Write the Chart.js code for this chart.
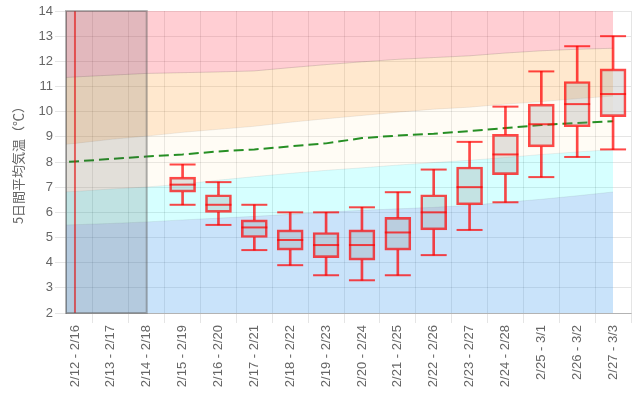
<!DOCTYPE html>
<html><head><meta charset="utf-8">
<script src="https://cdn.jsdelivr.net/npm/chart.js@4"></script>
<style>html,body{margin:0;padding:0;background:#fff}#wrap{width:640px;height:398px;position:relative}</style>
</head><body><div id="wrap"><canvas id="c"></canvas></div>
<script>
// Categories (5-day windows)
const categories = ['2/12 - 2/16','2/13 - 2/17','2/14 - 2/18','2/15 - 2/19','2/16 - 2/20','2/17 - 2/21','2/18 - 2/22','2/19 - 2/23','2/20 - 2/24','2/21 - 2/25','2/22 - 2/26','2/23 - 2/27','2/24 - 2/28','2/25 - 3/1','2/26 - 3/2','2/27 - 3/3'];
// Climatological lines are given from one window earlier
const normalLabels = ['2/11 - 2/15'].concat(categories);
const blueTop   = [5.47,5.51,5.56,5.62,5.70,5.77,5.84,5.92,6.01,6.08,6.14,6.20,6.28,6.40,6.52,6.66,6.81];
const cyanTop   = [6.77,6.83,6.93,7.01,7.12,7.28,7.42,7.55,7.67,7.77,7.88,7.98,8.07,8.18,8.30,8.40,8.50];
const orangeLow = [8.60,8.74,8.90,9.03,9.18,9.30,9.42,9.58,9.72,9.85,9.98,10.10,10.18,10.30,10.40,10.52,10.62];
const pinkLow   = [11.30,11.38,11.45,11.52,11.55,11.58,11.62,11.75,11.87,11.98,12.08,12.15,12.22,12.33,12.42,12.48,12.52];
const normalMean= [7.94,8.02,8.12,8.22,8.30,8.42,8.50,8.62,8.74,8.95,9.05,9.12,9.23,9.35,9.47,9.55,9.62];
// Ensemble box values per category
const boxMin = [null,null,null,6.3,5.5,4.5,3.9,3.5,3.3,3.5,4.3,5.3,6.4,7.4,8.2,8.5];
const boxQ1  = [null,null,null,6.8,6.0,5.0,4.5,4.2,4.1,4.5,5.3,6.3,7.5,8.6,9.4,9.8];
const boxMed = [null,null,null,7.1,6.3,5.4,4.9,4.7,4.7,5.2,6.0,7.0,8.3,9.5,10.3,10.7];
const boxQ3  = [null,null,null,7.4,6.7,5.7,5.3,5.2,5.3,5.8,6.7,7.8,9.1,10.3,11.2,11.7];
const boxMax = [null,null,null,7.9,7.2,6.3,6.0,6.0,6.2,6.8,7.7,8.8,10.2,11.6,12.6,13.0];
const yMin = 2, yMax = 14, yStep = 1;
const todayLabel = '2/12 - 2/16';
const observedUntil = '2/14 - 2/18';
const yTitle = '5日間平均気温（℃）';

const RED = 'rgba(255,0,0,0.72)';
const idxOf = l => categories.indexOf(l);
const normXY = arr => arr.map((v,i)=>({x: categories.indexOf(normalLabels[i]) === -1 ? i-1 : categories.indexOf(normalLabels[i]), y:v}));
const has = i => boxQ1[i] != null;
const idx = categories.map((c,i)=>i).filter(has);

const bandStyle = (color, fill, order) => ({type:'line', fill, backgroundColor:color, borderColor:'rgba(0,0,0,0.07)', borderWidth:1, pointRadius:0, tension:0, order});

const pastBox = {
  id:'pastBox',
  afterDatasetsDraw(chart){
    const {ctx, scales:{x,y}} = chart;
    const x0 = x.left, x1 = x.getPixelForValue(idxOf(observedUntil));
    const y0 = y.getPixelForValue(yMax), y1 = y.getPixelForValue(yMin);
    ctx.save();
    ctx.fillStyle = 'rgba(60,60,60,0.15)';
    ctx.fillRect(x0, y0, x1-x0, y1-y0);
    ctx.strokeStyle = 'rgba(90,90,90,0.45)';
    ctx.lineWidth = 2;
    ctx.strokeRect(x0, y0, x1-x0, y1-y0);
    ctx.restore();
  }
};

new Chart(document.getElementById('c'), {
  type:'bar',
  data:{ datasets:[
    Object.assign({data:normXY(blueTop)}, bandStyle('rgba(54,150,235,0.27)','start',20)),
    Object.assign({data:normXY(cyanTop)}, bandStyle('rgba(0,255,255,0.16)',0,19)),
    Object.assign({data:normXY(orangeLow)}, bandStyle('rgba(255,240,200,0.18)',1,18)),
    Object.assign({data:normXY(pinkLow)}, bandStyle('rgba(255,165,60,0.25)',2,17)),
    Object.assign({data:normXY(pinkLow)}, bandStyle('rgba(255,60,80,0.25)','end',16)),
    {type:'line', data:normXY(normalMean), borderColor:'rgba(0,125,0,0.85)', borderWidth:2, borderDash:[10,5], pointRadius:0, fill:false, order:6},
    {type:'line', data:[{x:idxOf(todayLabel),y:yMin},{x:idxOf(todayLabel),y:yMax}], borderColor:'rgba(255,0,0,0.6)', borderWidth:2, pointRadius:0, fill:false, order:5},
    {type:'bar', data:idx.map(i=>({x:i,y:[boxMin[i],boxQ1[i]]})), backgroundColor:RED, borderWidth:0, barThickness:2, grouped:false, order:4},
    {type:'bar', data:idx.map(i=>({x:i,y:[boxQ3[i],boxMax[i]]})), backgroundColor:RED, borderWidth:0, barThickness:2, grouped:false, order:3},
    {type:'bar', data:idx.map(i=>({x:i,y:[boxQ1[i],boxQ3[i]]})), backgroundColor:'rgba(140,140,140,0.24)', borderColor:RED, borderWidth:2, borderSkipped:false, barThickness:26, grouped:false, order:2},
    {type:'line', data:idx.flatMap(i=>[{x:i,y:boxMin[i]},{x:i,y:boxMax[i]},{x:i,y:boxMed[i]}]), showLine:false, pointStyle:'line', pointRadius:13, pointBorderWidth:2, borderColor:RED, pointBorderColor:RED, order:1}
  ]},
  options:{
    responsive:true, maintainAspectRatio:false, animation:false, events:[],
    layout:{autoPadding:false, padding:{top:11,right:9,left:0,bottom:0}},
    plugins:{legend:{display:false}, tooltip:{enabled:false}},
    scales:{
      x:{
        type:'linear', offset:false, min:-0.25, max:categories.length-0.5,
        afterBuildTicks(s){ s.ticks = categories.map((c,i)=>({value:i})); },
        afterFit(s){ s.height = 85; s.paddingRight = 0; s.paddingLeft = 0; },
        ticks:{autoSkip:false, minRotation:90, maxRotation:90, color:'#666', font:{size:13, family:'Liberation Sans, Arial, sans-serif'}, padding:2, callback:(v)=>categories[v]},
        grid:{offset:true, color:'rgba(0,0,0,0.1)', tickLength:10},
        border:{color:'rgba(0,0,0,0.22)'}
      },
      y:{
        min:yMin, max:yMax,
        afterFit(s){ s.width = 66; },
        ticks:{stepSize:yStep, color:'#666', font:{size:13, family:'Liberation Sans, Arial, sans-serif'}, padding:2},
        grid:{color:'rgba(0,0,0,0.1)', tickLength:11},
        border:{color:'rgba(0,0,0,0.25)'},
        title:{display:true, text:yTitle, color:'#666', font:{size:13, family:'Noto Sans CJK JP'}, padding:{top:10,bottom:0}}
      }
    }
  },
  plugins:[pastBox]
});
</script>
</body></html>
